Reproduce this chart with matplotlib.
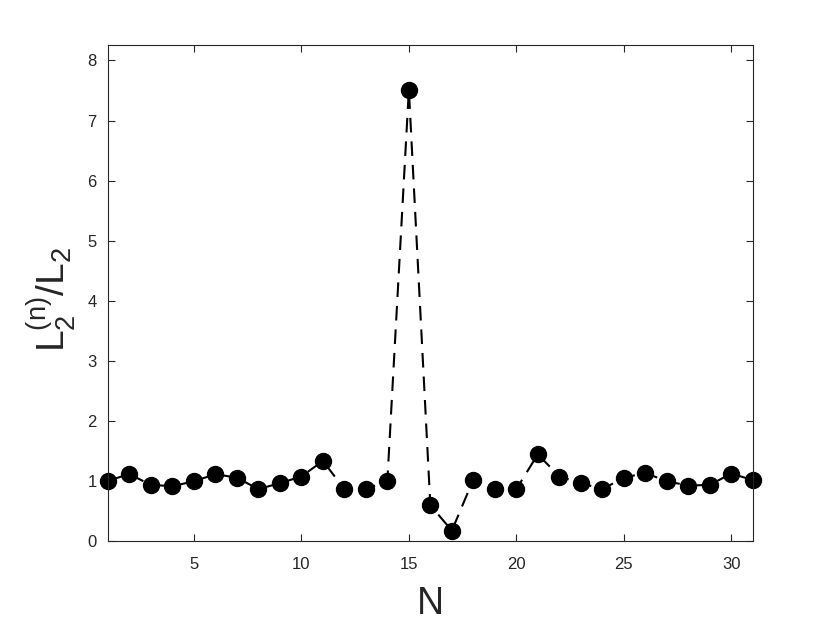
import matplotlib.pyplot as plt
import numpy as np

plt.rcParams['font.family'] = ['Liberation Sans', 'DejaVu Sans']
plt.rcParams['mathtext.fontset'] = 'custom'
plt.rcParams['mathtext.rm'] = 'Liberation Sans'
plt.rcParams['mathtext.it'] = 'Liberation Sans'

N = np.arange(1, 32)
ratio = [1.00, 1.11, 0.93, 0.91, 0.99, 1.11, 1.05, 0.86, 0.96, 1.07,
         1.33, 0.86, 0.86, 1.00, 7.51, 0.59, 0.17, 1.02, 0.86, 0.86,
         1.44, 1.07, 0.96, 0.86, 1.05, 1.13, 0.99, 0.92, 0.93, 1.12,
         1.01]
x_ticks = [5, 10, 15, 20, 25, 30]
y_ticks = [0, 1, 2, 3, 4, 5, 6, 7, 8]

axis_col = '#262626'

fig = plt.figure(figsize=(8.3, 6.23), dpi=100)
ax = fig.add_axes([0.130, 0.132, 0.777, 0.796])

ax.plot(N, ratio, color='black', lw=1.5, linestyle=(0, (7, 4.3)),
        marker='o', markersize=11.5, markerfacecolor='black',
        markeredgecolor='black', clip_on=False)

ax.set_xlim(1, 31)
ax.set_ylim(0, 8.26)
ax.set_xticks(x_ticks)
ax.set_yticks(y_ticks)
ax.tick_params(direction='in', top=True, right=True, length=5,
               width=0.8, labelsize=12, colors=axis_col, pad=8)
ax.tick_params(axis='x', pad=11.5)
for s in ax.spines.values():
    s.set_color(axis_col)
    s.set_linewidth(0.8)

ax.set_xlabel('N', fontsize=27, color=axis_col, labelpad=10)
ax.set_ylabel(r'$\mathrm{L_2^{(n)}/L_2}$', fontsize=28, color=axis_col)
ax.yaxis.set_label_coords(-0.047, 0.487)

fig.savefig('out.png', dpi=100)
